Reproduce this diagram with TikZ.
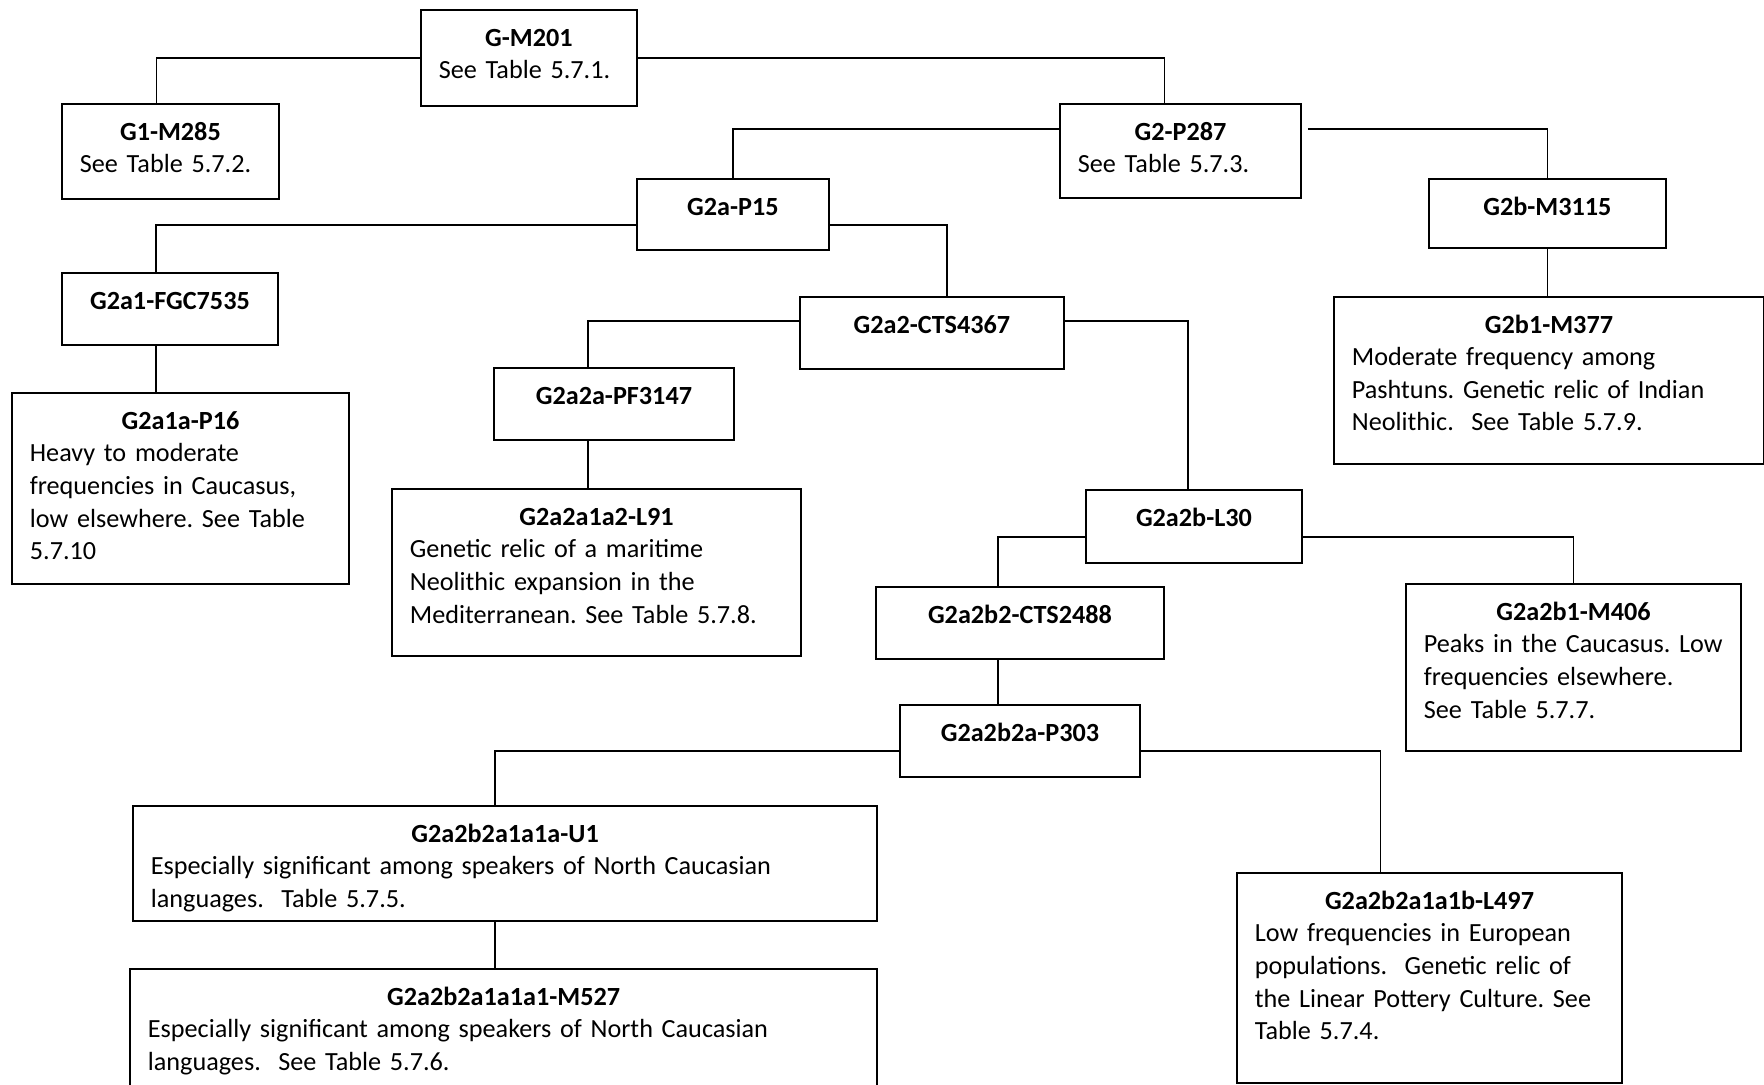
\documentclass[tikz,border=0pt]{standalone}
\usepackage{fontspec}
\setmainfont{Carlito}[WordSpace=0.9]
\frenchspacing
\newcommand{\hgtitle}[1]{{\centering\bfseries #1\par}}
\begin{document}
\begin{tikzpicture}[
  x=0.01cm, y=-0.01cm,
  hgbox/.style={draw, line width=0.5pt, anchor=north west,
                inner xsep=0.18cm, inner ysep=0pt, align=left,
                text height=0.365cm,
                font=\fontsize{7.45}{9.25}\selectfont},
  link/.style={line width=0.5pt}
]
\useasboundingbox (0,0) rectangle (1764,1084);
\clip (0,0) rectangle (1764,1084);

\node[hgbox, text width=1.80cm, text depth=0.595cm] (gm201) at (420,9)
  {\hgtitle{G-M201}See Table 5.7.1.};
\node[hgbox, text width=1.81cm, text depth=0.585cm] (g1) at (61,103)
  {\hgtitle{G1-M285}See Table 5.7.2.};
\node[hgbox, text width=2.05cm, text depth=0.575cm] (g2) at (1059,103)
  {\hgtitle{G2-P287}See Table 5.7.3.};
\node[hgbox, text width=1.56cm, text depth=0.345cm] (g2a) at (636,178)
  {\hgtitle{G2a-P15}};
\node[hgbox, text width=2.01cm, text depth=0.325cm] (g2b) at (1428,178)
  {\hgtitle{G2b-M3115}};
\node[hgbox, text width=3.94cm, text depth=1.305cm] (g2b1) at (1333,296)
  {\hgtitle{G2b1-M377}Moderate frequency among\\
   Pashtuns. Genetic relic of Indian\\
   Neolithic.~ See Table 5.7.9.};
\node[hgbox, text width=1.80cm, text depth=0.355cm] (g2a1) at (61,272)
  {\hgtitle{G2a1-FGC7535}};
\node[hgbox, text width=3.01cm, text depth=1.545cm] (g2a1a) at (11,392)
  {\hgtitle{G2a1a-P16}Heavy to moderate\\
   frequencies in Caucasus,\\
   low elsewhere. See Table\\
   5.7.10};
\node[hgbox, text width=2.28cm, text depth=0.355cm] (g2a2) at (799,296)
  {\hgtitle{G2a2-CTS4367}};
\node[hgbox, text width=2.04cm, text depth=0.355cm] (g2a2a) at (493,367)
  {\hgtitle{G2a2a-PF3147}};
\node[hgbox, text width=3.73cm, text depth=1.305cm] (l91) at (391,488)
  {\hgtitle{G2a2a1a2-L91}Genetic relic of a maritime\\
   Neolithic expansion in the\\
   Mediterranean. See Table 5.7.8.};
\node[hgbox, text width=1.80cm, text depth=0.365cm] (g2a2b) at (1085,489)
  {\hgtitle{G2a2b-L30}};
\node[hgbox, text width=2.52cm, text depth=0.355cm] (g2a2b2) at (875,586)
  {\hgtitle{G2a2b2-CTS2488}};
\node[hgbox, text width=2.99cm, text depth=1.305cm] (m406) at (1405,583)
  {\hgtitle{G2a2b1-M406}Peaks in the Caucasus. Low\\
   frequencies elsewhere.\\
   See Table 5.7.7.};
\node[hgbox, text width=2.04cm, text depth=0.355cm] (p303) at (899,704)
  {\hgtitle{G2a2b2a-P303}};
\node[hgbox, text width=7.08cm, text depth=0.785cm] (u1) at (132,805)
  {\hgtitle{G2a2b2a1a1a-U1}Especially significant among speakers of North Caucasian\\
   languages.~ Table 5.7.5.};
\node[hgbox, text width=7.11cm, text depth=1.635cm] (m527) at (129,968)
  {\hgtitle{G2a2b2a1a1a1-M527}Especially significant among speakers of North Caucasian\\
   languages.~ See Table 5.7.6.};
\node[hgbox, text width=3.49cm, text depth=1.735cm] (l497) at (1236,872)
  {\hgtitle{G2a2b2a1a1b-L497}Low frequencies in European\\
   populations.~ Genetic relic of\\
   the Linear Pottery Culture. See\\
   Table 5.7.4.};

% tree links
\draw[link] (gm201.west) -| ([xshift=-0.14cm]g1.north);
\draw[link] (gm201.east) -| ([xshift=-0.16cm]g2.north);
\draw[link] ([yshift=0.22cm]g2.west) -| (g2a.north);
\draw[link] ([xshift=0.06cm,yshift=0.22cm]g2.east) -| (g2b.north);
\draw[link] (g2b.south) -- (g2b.south |- g2b1.north);
\draw[link] ([yshift=-0.105cm]g2a.west) -| ([xshift=-0.14cm]g2a1.north);
\draw[link] ([yshift=-0.105cm]g2a.east) -| ([xshift=0.15cm]g2a2.north);
\draw[link] ([xshift=-0.14cm]g2a1.south) -- ([xshift=-0.14cm]g2a1.south |- g2a1a.north);
\draw[link] ([yshift=0.12cm]g2a2.west) -| ([xshift=-0.26cm]g2a2a.north);
\draw[link] ([yshift=0.12cm]g2a2.east) -| ([xshift=-0.06cm]g2a2b.north);
\draw[link] ([xshift=-0.26cm]g2a2a.south) -- ([xshift=-0.26cm]g2a2a.south |- l91.north);
\draw[link] ([yshift=-0.105cm]g2a2b.west) -| ([xshift=-0.22cm]g2a2b2.north);
\draw[link] ([yshift=-0.105cm]g2a2b.east) -| (m406.north);
\draw[link] ([xshift=-0.22cm]g2a2b2.south) -- ([xshift=-0.22cm]g2a2b2.south |- p303.north);
\draw[link] ([yshift=-0.10cm]p303.west) -| ([xshift=-0.10cm]u1.north);
\draw[link] ([yshift=-0.10cm]p303.east) -| ([xshift=-0.49cm]l497.north);
\draw[link] ([xshift=-0.10cm]u1.south) -- ([xshift=-0.10cm]u1.south |- m527.north);
\end{tikzpicture}
\end{document}
